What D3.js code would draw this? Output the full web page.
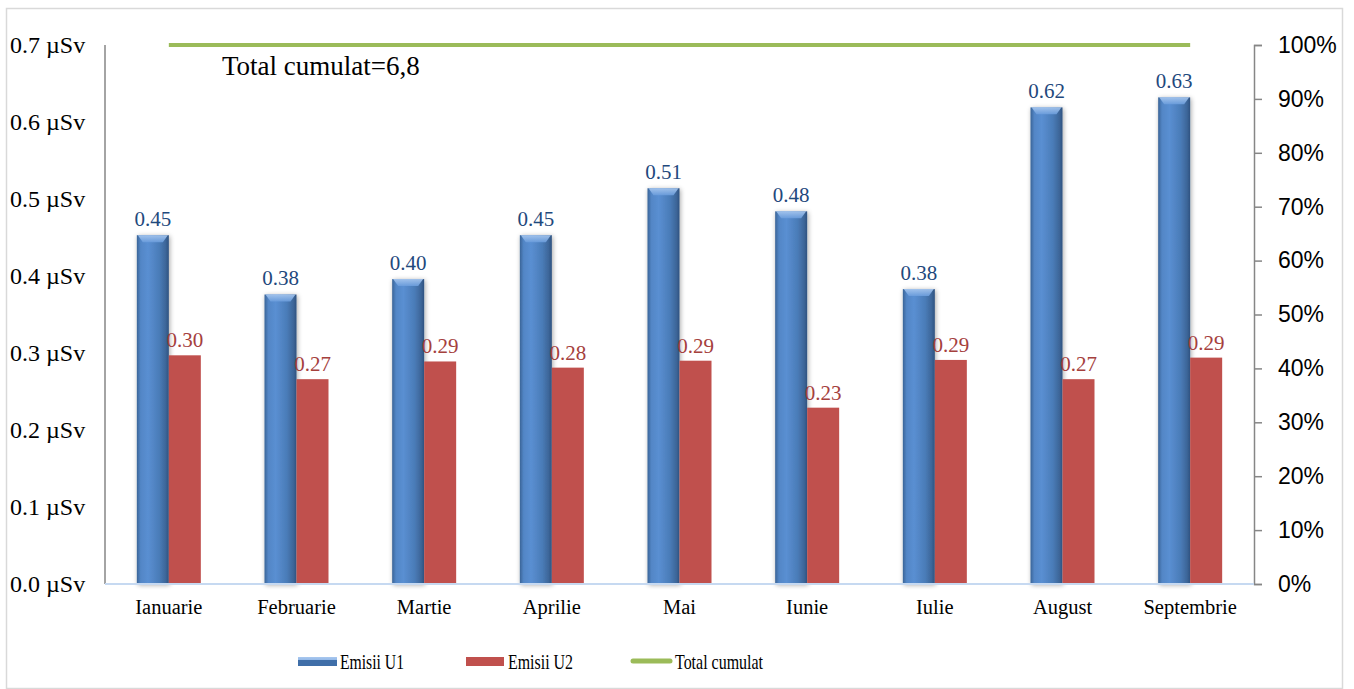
<!DOCTYPE html>
<html>
<head>
<meta charset="utf-8">
<script src="https://cdn.jsdelivr.net/npm/d3@7.9.0/dist/d3.min.js"></script>
<style>
  body { margin: 0; background: #fff; }
  svg { display: block; }
  .serif { font-family: "Liberation Serif", "Times New Roman", serif; }
  .sans { font-family: "Liberation Sans", Arial, sans-serif; }
</style>
</head>
<body>
<svg width="1354" height="689"></svg>
<script>
// data
const months = ['Ianuarie', 'Februarie', 'Martie', 'Aprilie', 'Mai', 'Iunie', 'Iulie', 'August', 'Septembrie'];
const emisiiU1 = [0.453, 0.376, 0.396, 0.453, 0.514, 0.484, 0.383, 0.619, 0.632];
const emisiiU2 = [0.297, 0.266, 0.289, 0.281, 0.290, 0.229, 0.291, 0.266, 0.294];
const totalCumulat = [1, 1, 1, 1, 1, 1, 1, 1, 1];
const leftTicks = [0, 0.1, 0.2, 0.3, 0.4, 0.5, 0.6, 0.7];
const rightTicks = [0, 0.1, 0.2, 0.3, 0.4, 0.5, 0.6, 0.7, 0.8, 0.9, 1];
const totalLabel = 'Total cumulat=6,8';

const blue = '#4F81BD', red = '#C0504D', green = '#9BBB59';

const svg = d3.select('svg');

// outer frame
svg.append('rect')
  .attr('x', 6.5).attr('y', 8.5).attr('width', 1336).attr('height', 680)
  .attr('fill', 'none').attr('stroke', '#d9d9d9').attr('stroke-width', 1.5);

const pLeft = 105, pRight = 1254, pTop = 45, pBottom = 584;

let x = d3.scaleBand().domain(months).range([pLeft, pRight]);
let y = d3.scaleLinear().domain([0, 0.7]).range([pBottom, pTop]);
let y2 = d3.scaleLinear().domain([0, 1]).range([pBottom, pTop]);

// gradients for the blue cylinders
const defs = svg.append('defs');
const gBar = defs.append('linearGradient').attr('id', 'cyl').attr('x1', 0).attr('x2', 1).attr('y1', 0).attr('y2', 0);
[['0%', '#3a6497'], ['12%', '#5286c6'], ['35%', '#5a8fd2'], ['70%', '#4a7cb8'], ['90%', '#3d6699'], ['100%', '#2f5280']]
  .forEach(([o, c]) => gBar.append('stop').attr('offset', o).attr('stop-color', c));
const gTop = defs.append('linearGradient').attr('id', 'cap').attr('x1', 0).attr('x2', 0).attr('y1', 0).attr('y2', 1);
[['0%', '#a9c8ef'], ['100%', '#6b9ddc']]
  .forEach(([o, c]) => gTop.append('stop').attr('offset', o).attr('stop-color', c));
const shadow = defs.append('filter').attr('id', 'shadow').attr('x', '-50%').attr('y', '-10%').attr('width', '200%').attr('height', '120%');
shadow.append('feGaussianBlur').attr('in', 'SourceAlpha').attr('stdDeviation', 2.5).attr('result', 'b');
shadow.append('feOffset').attr('in', 'b').attr('dx', 1).attr('dy', 1).attr('result', 'o');
shadow.append('feComponentTransfer').attr('in', 'o').attr('result', 's')
  .append('feFuncA').attr('type', 'linear').attr('slope', 0.35);
const merge = shadow.append('feMerge');
merge.append('feMergeNode').attr('in', 's');
merge.append('feMergeNode').attr('in', 'SourceGraphic');

const bw = 32;

// left axis line
svg.append('line')
  .attr('x1', pLeft).attr('x2', pLeft).attr('y1', pTop).attr('y2', pBottom)
  .attr('stroke', '#868686').attr('stroke-width', 1.5);

// left tick labels
svg.append('g').selectAll('text').data(leftTicks).join('text')
  .attr('class', 'serif')
  .attr('x', 10).attr('y', d => y(d) + 8)
  .attr('font-size', 24).attr('fill', '#000')
  .text(d => d.toFixed(1) + ' µSv');

// right axis
let rAxis = d3.axisRight(y2).tickValues(rightTicks).tickSize(8).tickFormat(d3.format('.0%'));
let rg = svg.append('g').attr('transform', `translate(${pRight},0)`).call(rAxis);
rg.select('.domain').attr('stroke', '#868686').attr('stroke-width', 1.5);
rg.selectAll('.tick line').attr('stroke', '#868686').attr('stroke-width', 1.5);
rg.selectAll('.tick text')
  .attr('class', 'sans').attr('x', 24).attr('font-size', 23).attr('fill', '#000');

// blue bars
let g1 = svg.append('g');
emisiiU1.forEach((v, i) => {
  let bx = x(months[i]) + x.bandwidth() / 2 - bw;
  let by = y(v);
  g1.append('rect')
    .attr('x', bx).attr('y', by).attr('width', bw).attr('height', pBottom - by)
    .attr('fill', 'url(#cyl)').attr('filter', 'url(#shadow)');
  g1.append('path')
    .attr('d', `M${bx + 1},${by} L${bx + bw - 1},${by} L${bx + bw - 6},${by + 7} L${bx + 6},${by + 7} Z`)
    .attr('fill', 'url(#cap)').attr('opacity', 0.9);
  g1.append('text')
    .attr('class', 'serif')
    .attr('x', bx + bw / 2).attr('y', by - 9)
    .attr('text-anchor', 'middle').attr('font-size', 21).attr('fill', '#1F497D')
    .text(v.toFixed(2));
});

// red bars
let g2 = svg.append('g');
emisiiU2.forEach((v, i) => {
  let bx = x(months[i]) + x.bandwidth() / 2;
  let by = y(v);
  g2.append('rect')
    .attr('x', bx).attr('y', by).attr('width', bw).attr('height', pBottom - by)
    .attr('fill', red);
  g2.append('text')
    .attr('class', 'serif')
    .attr('x', bx + bw / 2).attr('y', by - 8)
    .attr('text-anchor', 'middle').attr('font-size', 21).attr('fill', '#A5403D')
    .text(v.toFixed(2));
});

// x axis line
svg.append('line')
  .attr('x1', pLeft).attr('x2', pRight).attr('y1', pBottom).attr('y2', pBottom)
  .attr('stroke', '#c6d9f1').attr('stroke-width', 2);

// category labels
svg.append('g').selectAll('text').data(months).join('text')
  .attr('class', 'serif')
  .attr('x', d => x(d) + x.bandwidth() / 2).attr('y', 614)
  .attr('text-anchor', 'middle').attr('font-size', 20.5).attr('fill', '#000')
  .text(d => d);

// total cumulat line (right axis)
let line = d3.line()
  .x((d, i) => x(months[i]) + x.bandwidth() / 2)
  .y(d => y2(d));
svg.append('path')
  .datum(totalCumulat)
  .attr('d', line)
  .attr('fill', 'none').attr('stroke', green).attr('stroke-width', 4);

svg.append('text')
  .attr('class', 'serif')
  .attr('x', 222).attr('y', 75)
  .attr('font-size', 27).attr('fill', '#000')
  .text(totalLabel);

// legend
let lg = svg.append('g');
let ly = 661;
lg.append('rect').attr('x', 298).attr('y', ly - 4).attr('width', 39).attr('height', 9).attr('fill', 'url(#cap)');
lg.append('rect').attr('x', 298).attr('y', ly - 1).attr('width', 39).attr('height', 6).attr('fill', '#3f6ea8');
lg.append('text').attr('class', 'serif').attr('x', 340).attr('y', ly + 8).attr('font-size', 21)
  .attr('textLength', 64).attr('lengthAdjust', 'spacingAndGlyphs').text('Emisii U1');
lg.append('rect').attr('x', 466).attr('y', ly - 4).attr('width', 38).attr('height', 9).attr('fill', red);
lg.append('text').attr('class', 'serif').attr('x', 508).attr('y', ly + 8).attr('font-size', 21)
  .attr('textLength', 65).attr('lengthAdjust', 'spacingAndGlyphs').text('Emisii U2');
lg.append('line').attr('x1', 633).attr('x2', 670).attr('y1', ly).attr('y2', ly)
  .attr('stroke', green).attr('stroke-width', 5).attr('stroke-linecap', 'round');
lg.append('text').attr('class', 'serif').attr('x', 675).attr('y', ly + 8).attr('font-size', 21)
  .attr('textLength', 88).attr('lengthAdjust', 'spacingAndGlyphs').text('Total cumulat');
</script>
</body>
</html>
